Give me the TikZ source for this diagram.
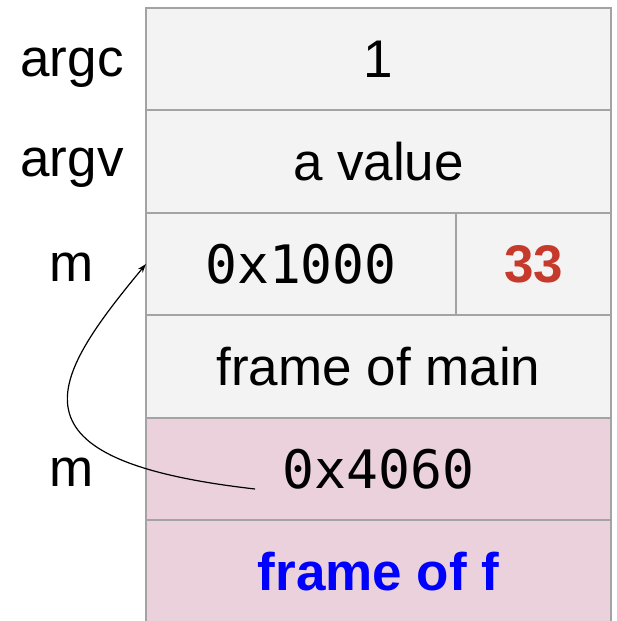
\documentclass[tikz,border=0pt]{standalone}
\usepackage{fontspec}
\setmainfont{Liberation Sans}
\setmonofont{DejaVu Sans Mono}
\usetikzlibrary{arrows.meta}
\definecolor{cellgray}{HTML}{F3F3F3}
\definecolor{cellpink}{HTML}{EAD1DC}
\definecolor{bordergray}{HTML}{A3A3A3}
\definecolor{numred}{HTML}{C63A2B}
\definecolor{fblue}{HTML}{0000FF}
\begin{document}
\begin{tikzpicture}[x=1pt,y=1pt,
  every node/.style={font=\fontsize{53}{60}\selectfont, inner sep=0pt, outer sep=0pt},
  cell/.style={draw=bordergray, line width=2pt, minimum height=102.5pt},
  wide/.style={cell, minimum width=465pt},
  graycell/.style={fill=cellgray},
  pinkcell/.style={fill=cellpink},
  mono/.style={font=\fontsize{53}{60}\selectfont\ttfamily},
  lbl/.style={anchor=base},
  ptr/.style={-{Stealth[length=9pt,width=6pt]}, line width=1.2pt}]
\useasboundingbox (0,0) rectangle (617,621);
\node[wide,graycell] (argc) at (378.5,562) {1};
\node[wide,graycell] (argv) at (378.5,459.5) {a value};
\node[cell,graycell,minimum width=310pt,mono] (mval) at (301,357) {0x1000};
\node[cell,graycell,minimum width=155pt] (mnum) at (533.5,357) {\textbf{\textcolor{numred}{33}}};
\node[wide,graycell] (fmain) at (378.5,254.5) {frame of main};
\node[wide,pinkcell,mono] (fm) at (378.5,152) {0x4060};
\node[wide,pinkcell] (ff) at (378.5,49.5) {\textbf{\textcolor{fblue}{frame of f}}};
\node[lbl] (largc) at (72,544) {argc};
\node[lbl] (largv) at (72,444) {argv};
\node[lbl] (lm1) at (72,339) {m};
\node[lbl] (lm2) at (72,134) {m};
\coordinate (pstart) at (255,132);
\draw[ptr] (pstart) .. controls (0,161) and (50,241) .. (mval.west);
\end{tikzpicture}
\end{document}
